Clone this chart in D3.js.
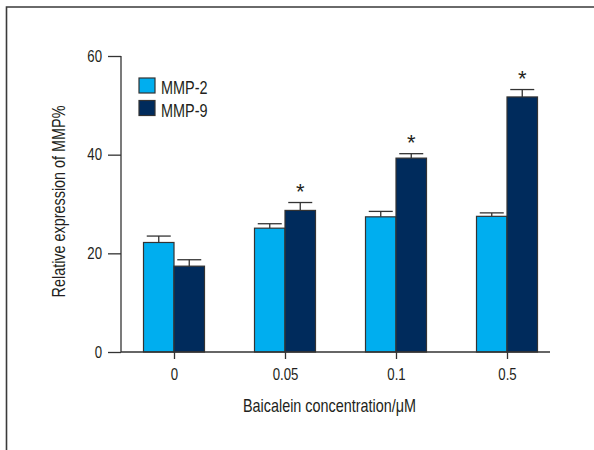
<!DOCTYPE html>
<html>
<head>
<meta charset="utf-8">
<script src="https://cdn.jsdelivr.net/npm/d3@7"></script>
<style>
  body { margin: 0; background: #fff; }
  svg text { font-family: "Liberation Sans", Arial, sans-serif; fill: #231f20; }
  /* narrow the Liberation glyphs to look like the condensed face of the figure */
  svg text.cond { transform-box: fill-box; transform-origin: center; transform: scaleX(0.8); }
  svg text.cond-end { transform-box: fill-box; transform-origin: right center; transform: scaleX(0.8); }
  svg text.cond-start { transform-box: fill-box; transform-origin: left center; transform: scaleX(0.78); }
</style>
</head>
<body>
<div id="chart"></div>
<script>
// Data
const concentrations = ['0', '0.05', '0.1', '0.5'];
const seriesNames = ['MMP-2', 'MMP-9'];
const mmp2 = [22.2, 25.1, 27.4, 27.5];
const mmp2Err = [1.3, 0.9, 1.1, 0.7];
const mmp9 = [17.4, 28.7, 39.3, 51.7];
const mmp9Err = [1.3, 1.6, 0.9, 1.5];
const mmp9Significant = [false, true, true, true];
const yTicks = [0, 20, 40, 60];

const width = 594;
const height = 450;
const margin = { top: 56, right: 44, bottom: 98, left: 121 };
const colors = { 'MMP-2': '#00aeef', 'MMP-9': '#002b5c' };

const svg = d3.select('#chart').append('svg')
    .attr('width', width)
    .attr('height', height);

// frame: top and left edges only
svg.append('path')
    .attr('d', `M6.5,${height} V7 H${width}`)
    .attr('fill', 'none')
    .attr('stroke', '#3a3a3a')
    .attr('stroke-width', 1.6);

const innerW = width - margin.left - margin.right;
const innerH = height - margin.top - margin.bottom;

const g = svg.append('g')
    .attr('transform', `translate(${margin.left},${margin.top})`);

// category centres
const x = d3.scalePoint()
    .domain(concentrations)
    .range([53, innerW - 43]);

const barW = 30.5;
const xSub = d3.scaleBand()
    .domain(seriesNames)
    .range([-barW, barW]);

const y = d3.scaleLinear()
    .domain([0, 60])
    .range([innerH, 0]);

const rows = concentrations.map((c, i) => ({
    cat: c,
    bars: [
        { name: 'MMP-2', value: mmp2[i], err: mmp2Err[i], star: false },
        { name: 'MMP-9', value: mmp9[i], err: mmp9Err[i], star: mmp9Significant[i] }
    ]
}));

// bars
const groups = g.selectAll('g.grp')
    .data(rows)
    .join('g')
    .attr('class', 'grp')
    .attr('transform', d => `translate(${x(d.cat)},0)`);

const bar = groups.selectAll('g.bar')
    .data(d => d.bars)
    .join('g')
    .attr('class', 'bar');

// error bars (drawn first so the bar covers the lower half)
bar.append('line')
    .attr('x1', d => xSub(d.name) + barW / 2)
    .attr('x2', d => xSub(d.name) + barW / 2)
    .attr('y1', d => y(d.value))
    .attr('y2', d => y(d.value + d.err))
    .attr('stroke', '#333')
    .attr('stroke-width', 1.3);

bar.append('line')
    .attr('x1', d => xSub(d.name) + barW / 2 - 12)
    .attr('x2', d => xSub(d.name) + barW / 2 + 12)
    .attr('y1', d => y(d.value + d.err))
    .attr('y2', d => y(d.value + d.err))
    .attr('stroke', '#333')
    .attr('stroke-width', 1.3);

bar.append('rect')
    .attr('x', d => xSub(d.name))
    .attr('y', d => y(d.value))
    .attr('width', barW)
    .attr('height', d => y(0) - y(d.value))
    .attr('fill', d => colors[d.name])
    .attr('stroke', '#333')
    .attr('stroke-width', 1.2);

bar.filter(d => d.star)
    .append('text')
    .attr('x', d => xSub(d.name) + barW / 2)
    .attr('y', d => y(d.value + d.err) - 4)
    .attr('text-anchor', 'middle')
    .style('font-size', '22px')
    .attr('fill', '#3a3a3a')
    .text('*');

// axes
const yAxis = g.append('g')
    .call(d3.axisLeft(y).tickValues(yTicks).tickSize(13).tickPadding(6));

const xAxis = g.append('g')
    .attr('transform', `translate(0,${innerH})`)
    .call(d3.axisBottom(x).tickSize(7).tickPadding(9.5));

[yAxis, xAxis].forEach(ax => {
    ax.select('.domain').attr('stroke', '#333').attr('stroke-width', 1.3);
    ax.selectAll('.tick line').attr('stroke', '#333').attr('stroke-width', 1.3);
    ax.selectAll('.tick text').style('font-size', '16.5px').attr('fill', '#231f20');
});
yAxis.selectAll('.tick text').attr('class', 'cond-end');
xAxis.selectAll('.tick text').attr('class', 'cond');
// y-axis domain without the outer tick stubs
yAxis.select('.domain').attr('d', `M0,0V${innerH}`);
xAxis.select('.domain').attr('d', `M0,0H${innerW}`);

// axis titles
svg.append('text')
    .attr('class', 'cond')
    .attr('x', margin.left + innerW / 2 - 6)
    .attr('y', 411.7)
    .attr('text-anchor', 'middle')
    .style('font-size', '18px')
    .text('Baicalein concentration/μM');

svg.append('g')
    .attr('transform', `translate(65,${margin.top + innerH / 2 - 2.5}) rotate(-90)`)
    .append('text')
    .attr('class', 'cond')
    .attr('text-anchor', 'middle')
    .style('font-size', '18px')
    .text('Relative expression of MMP%');

// legend
const legend = svg.append('g')
    .attr('transform', 'translate(139,78)');

const item = legend.selectAll('g')
    .data(seriesNames)
    .join('g')
    .attr('transform', (d, i) => `translate(0,${i * 22.5})`);

item.append('rect')
    .attr('width', 16)
    .attr('height', 15)
    .attr('fill', d => colors[d])
    .attr('stroke', '#333')
    .attr('stroke-width', 1.2);

item.append('text')
    .attr('class', 'cond-start')
    .attr('x', 22)
    .attr('y', 16)
    .style('font-size', '18.5px')
    .text(d => d);
</script>
</body>
</html>
